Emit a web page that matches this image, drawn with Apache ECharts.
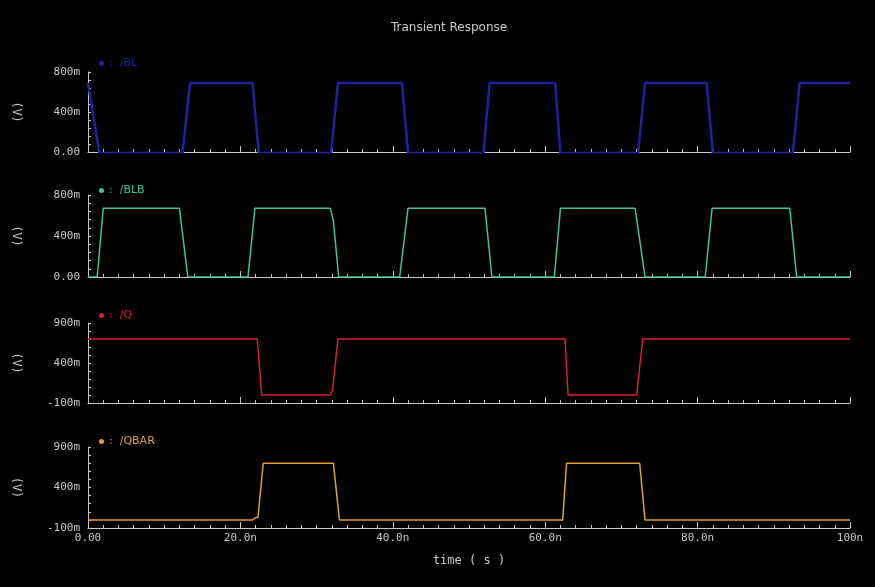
<!DOCTYPE html>
<html>
<head>
<meta charset="utf-8">
<script src="https://cdn.jsdelivr.net/npm/echarts@6/dist/echarts.min.js"></script>
<style>
  html, body { margin: 0; padding: 0; background: #000; }
  #main { width: 875px; height: 587px; }
</style>
</head>
<body>
<div id="main"></div>
<script>
// time in ns, voltage in V
const blTime = [0, 1.5, 12.4, 13.4, 21.6, 22.4, 31.9, 32.8, 41.2, 42.0, 51.9, 52.7, 61.3, 62.0, 72.2, 73.1, 81.2, 82.0, 92.5, 93.4, 100]
const blVolt = [0.69, -0.01, -0.01, 0.69, 0.69, -0.01, -0.01, 0.69, 0.69, -0.01, -0.01, 0.69, 0.69, -0.01, -0.01, 0.69, 0.69, -0.01, -0.01, 0.69, 0.69]

const blbTime = [0, 1.2, 2.0, 12.0, 13.1, 21.0, 21.9, 31.8, 32.2, 32.9, 40.9, 42.0, 52.1, 53.0, 61.2, 62.0, 71.8, 73.1, 81.0, 81.9, 92.1, 93.0, 100]
const blbVolt = [0, 0, 0.67, 0.67, 0, 0, 0.67, 0.67, 0.55, 0, 0, 0.67, 0.67, 0, 0, 0.67, 0.67, 0, 0, 0.67, 0.67, 0, 0]

const qTime = [0, 22.2, 22.8, 31.8, 32.1, 32.8, 62.6, 63.0, 72.0, 72.8, 100]
const qVolt = [0.70, 0.70, 0, 0, 0.06, 0.70, 0.70, 0, 0, 0.70, 0.70]

const qbarTime = [0, 21.6, 22.0, 22.3, 23.0, 32.2, 33.0, 62.3, 62.8, 72.4, 73.1, 100]
const qbarVolt = [0, 0, 0.03, 0.03, 0.70, 0.70, 0, 0, 0.70, 0.70, 0, 0]

const names = ['/BL', '/BLB', '/Q', '/QBAR']
const colors = ['#2222a0', '#3ec49a', '#d42038', '#e0a030']
const xTicks = { min: 0, max: 100, interval: 20 }
const yRanges = [
  { min: 0, max: 0.8, interval: 0.08 },
  { min: 0, max: 0.8, interval: 0.08 },
  { min: -0.1, max: 0.9, interval: 0.1 },
  { min: -0.1, max: 0.9, interval: 0.1 }
]
const yLabelValues = [[0, 400, 800], [0, 400, 800], [-100, 400, 900], [-100, 400, 900]]

const axisColor = '#c8c8c8'
const textColor = '#c8c8c8'
const font = 'DejaVu Sans Mono'

const grids = [
  { left: 88, right: 25, top: 72, height: 80 },
  { left: 88, right: 25, top: 195, height: 82 },
  { left: 88, right: 25, top: 323, height: 80 },
  { left: 88, right: 25, top: 447, height: 81 }
]
const legendTops = [53, 180, 305, 431]

function pairs(t, v) {
  return t.map((x, i) => [x, v[i]])
}
const seriesData = [pairs(blTime, blVolt), pairs(blbTime, blbVolt), pairs(qTime, qVolt), pairs(qbarTime, qbarVolt)]

const myChart = echarts.init(document.getElementById('main'))

let option = {
  backgroundColor: '#000',
  animation: false,
  title: {
    text: 'Transient Response',
    left: 386,
    top: 17,
    textStyle: { color: textColor, fontSize: 12, fontWeight: 'normal', fontFamily: 'DejaVu Sans' }
  },
  legend: names.map((n, i) => ({
    data: [n],
    left: 94,
    top: legendTops[i],
    icon: 'circle',
    itemWidth: 5,
    itemHeight: 5,
    itemGap: 4,
    formatter: ':  {name}',
    selectedMode: false,
    textStyle: { color: colors[i], fontSize: 11, fontFamily: 'DejaVu Sans' }
  })),
  grid: grids,
  xAxis: grids.map((g, i) => ({
    type: 'value',
    gridIndex: i,
    min: xTicks.min,
    max: xTicks.max,
    interval: xTicks.interval,
    name: i === 3 ? 'time ( s )' : '',
    nameLocation: 'middle',
    nameGap: 27,
    nameTextStyle: { color: textColor, fontSize: 12, fontFamily: font },
    axisLine: { onZero: false, lineStyle: { color: axisColor, width: 1 } },
    axisTick: { show: true, inside: true, length: 6, lineStyle: { color: axisColor } },
    minorTick: { show: true, splitNumber: 10, length: 3, lineStyle: { color: axisColor } },
    splitLine: { show: false },
    axisLabel: {
      show: i === 3,
      color: textColor,
      fontSize: 11,
      fontFamily: font,
      margin: 5,
      formatter: v => v === 0 ? '0.00' : v === 100 ? '100n' : v.toFixed(1) + 'n'
    }
  })),
  yAxis: grids.map((g, i) => ({
    type: 'value',
    gridIndex: i,
    min: yRanges[i].min,
    max: yRanges[i].max,
    interval: yRanges[i].interval,
    name: '(V)',
    nameLocation: 'middle',
    nameRotate: -90,
    nameGap: 66,
    nameTextStyle: { color: textColor, fontSize: 12, fontFamily: font },
    axisLine: { show: true, onZero: false, lineStyle: { color: axisColor, width: 1 } },
    axisTick: { show: true, inside: true, length: 3, lineStyle: { color: axisColor } },
    splitLine: { show: false },
    axisLabel: {
      color: textColor,
      fontSize: 11,
      fontFamily: font,
      margin: 8,
      formatter: v => {
        const m = Math.round(v * 1000)
        if (yLabelValues[i].indexOf(m) < 0) return ''
        return m === 0 ? '0.00' : m + 'm'
      }
    }
  })),
  series: names.map((n, i) => ({
    name: n,
    type: 'line',
    xAxisIndex: i,
    yAxisIndex: i,
    data: seriesData[i],
    showSymbol: false,
    symbol: 'circle',
    symbolSize: 4,
    lineStyle: { color: colors[i], width: i === 0 ? 2.5 : 1.5 },
    itemStyle: { color: colors[i] }
  }))
}

myChart.setOption(option)
</script>
</body>
</html>
